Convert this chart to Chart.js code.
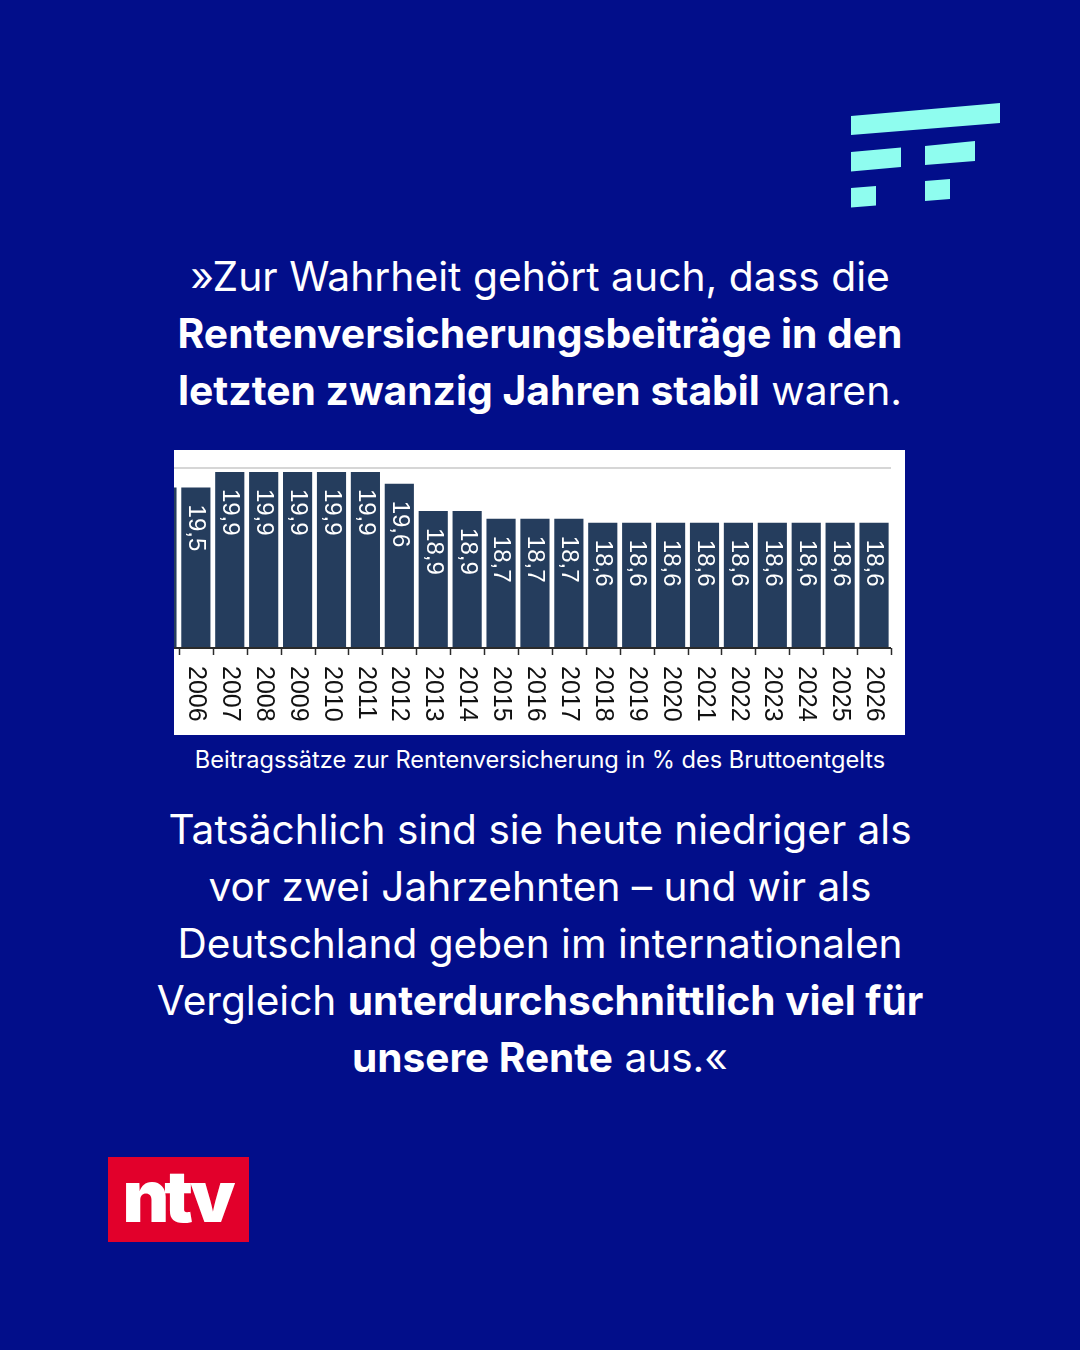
<!DOCTYPE html>
<html lang="de">
<head>
<meta charset="utf-8">
<title>Beitragssätze zur Rentenversicherung</title>
<script src="https://cdn.jsdelivr.net/npm/chart.js@4.4.1/dist/chart.umd.min.js"></script>
<style>
  html, body { margin: 0; padding: 0; }
  body {
    width: 1080px; height: 1350px; overflow: hidden;
    background: #020e8a; color: #fff;
    font-family: "Inter", "Noto Sans", sans-serif;
    position: relative;
  }
  .block { position: absolute; left: 0; width: 1080px; text-align: center; }
  .quote { top: 248px; font-size: 40.8px; line-height: 57px; }
  .rest  { top: 801px; font-size: 40.6px; line-height: 57px; }
  .caption { top: 746px; font-size: 23.6px; line-height: 28px; }
  b { font-weight: 700; }
  #box {
    position: absolute; left: 174px; top: 450px; width: 731px; height: 285px;
    background: #fff; overflow: hidden;
  }
  #chart { position: absolute; left: -29px; top: 0; }
  #logo { position: absolute; left: 0; top: 0; }
  #ntv {
    position: absolute; left: 108px; top: 1157px; width: 141px; height: 85px;
    background: #e2002b; color: #fff; text-align: center;
    font-family: "Inter", sans-serif; font-weight: 900; font-size: 72px;
    line-height: 78px; letter-spacing: -5px; text-indent: -4px;
  }
</style>
</head>
<body>

<svg id="logo" width="1080" height="260">
  <g fill="#8ffdef">
    <polygon points="851,116 1000,103 1000,123 851,135"/>
    <polygon points="851,152 901,147.5 901,167 851,171.5"/>
    <polygon points="925,146 975,141 975,161 925,165"/>
    <polygon points="851,188 876,186 876,205.5 851,207.5"/>
    <polygon points="925,181 950,179 950,199 925,201"/>
  </g>
</svg>

<div class="block quote">
  »Zur Wahrheit gehört auch, dass die<br>
  <b>Rentenversicherungsbeiträge in den</b><br>
  <b>letzten zwanzig Jahren stabil</b> waren.
</div>

<div id="box"><canvas id="chart" width="760" height="285"></canvas></div>

<div class="block caption">Beitragssätze zur Rentenversicherung in % des Bruttoentgelts</div>

<div class="block rest">
  Tatsächlich sind sie heute niedriger als<br>
  vor zwei Jahrzehnten – und wir als<br>
  Deutschland geben im internationalen<br>
  Vergleich <b>unterdurchschnittlich viel für</b><br>
  <b>unsere Rente</b> aus.«
</div>

<div id="ntv">ntv</div>

<script>
// Jahre und Beitragssätze (in %); 2005 ist im Original links abgeschnitten
const years = ['2005', '2006', '2007', '2008', '2009', '2010', '2011', '2012', '2013', '2014', '2015',
  '2016', '2017', '2018', '2019', '2020', '2021', '2022', '2023', '2024', '2025', '2026'];
const rates = [19.5, 19.5, 19.9, 19.9, 19.9, 19.9, 19.9, 19.6, 18.9, 18.9, 18.7,
  18.7, 18.7, 18.6, 18.6, 18.6, 18.6, 18.6, 18.6, 18.6, 18.6, 18.6];
const gridValues = [20];
const axisMin = 15.4;
const axisMax = 20;

const formatRate = v => v.toFixed(1).replace('.', ',');

// Achse, Gitterlinie, Striche und gedrehte Beschriftungen
const axisPlugin = {
  id: 'axisPlugin',
  beforeDatasetsDraw(chart) {
    const { ctx, chartArea, scales: { y } } = chart;
    ctx.save();
    ctx.strokeStyle = '#d6d6d6';
    ctx.lineWidth = 2;
    gridValues.forEach(v => {
      const py = Math.round(y.getPixelForValue(v));
      ctx.beginPath();
      ctx.moveTo(chartArea.left, py);
      ctx.lineTo(chartArea.right, py);
      ctx.stroke();
    });
    ctx.restore();
  },
  afterDatasetsDraw(chart) {
    const { ctx, chartArea, scales: { x, y } } = chart;
    const base = y.getPixelForValue(axisMin);
    ctx.save();
    ctx.strokeStyle = '#2b2b2b';
    ctx.lineWidth = 2;
    ctx.beginPath();
    ctx.moveTo(chartArea.left, base);
    ctx.lineTo(chartArea.right, base);
    ctx.stroke();

    const half = (x.getPixelForValue(1) - x.getPixelForValue(0)) / 2;
    ctx.lineWidth = 1.5;
    for (let i = 0; i <= years.length; i++) {
      const px = Math.round(x.getPixelForValue(Math.min(i, years.length - 1)) + (i === years.length ? half : -half)) + 0.5;
      ctx.beginPath();
      ctx.moveTo(px, base);
      ctx.lineTo(px, base + 7);
      ctx.stroke();
    }

    ctx.textAlign = 'left';
    ctx.textBaseline = 'middle';

    // Jahreszahlen
    ctx.font = '25px "Liberation Sans", Arial, sans-serif';
    ctx.fillStyle = '#111';
    years.forEach((label, i) => {
      ctx.save();
      ctx.translate(x.getPixelForValue(i), base + 18);
      ctx.rotate(Math.PI / 2);
      ctx.fillText(label, 0, 0);
      ctx.restore();
    });

    // Werte in den Balken
    ctx.font = '24px "Liberation Sans", Arial, sans-serif';
    ctx.fillStyle = '#fff';
    chart.getDatasetMeta(0).data.forEach((bar, i) => {
      ctx.save();
      ctx.translate(bar.x, bar.y + 17);
      ctx.rotate(Math.PI / 2);
      ctx.fillText(formatRate(rates[i]), 0, 0);
      ctx.restore();
    });
    ctx.restore();
  }
};

new Chart(document.getElementById('chart'), {
  type: 'bar',
  data: {
    labels: years,
    datasets: [{
      data: rates,
      backgroundColor: '#253d5d',
      borderWidth: 0,
      categoryPercentage: 1,
      barPercentage: 0.86
    }]
  },
  options: {
    responsive: false,
    animation: false,
    layout: { padding: { left: 0, right: 14, top: 18, bottom: 87 } },
    plugins: {
      legend: { display: false },
      tooltip: { enabled: false }
    },
    scales: {
      x: { display: false },
      y: { display: false, min: axisMin, max: axisMax }
    }
  },
  plugins: [axisPlugin]
});
</script>
</body>
</html>
